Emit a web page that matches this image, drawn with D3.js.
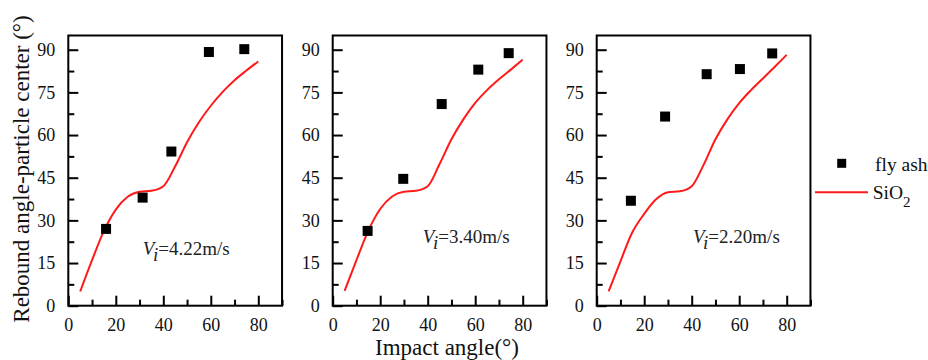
<!DOCTYPE html>
<html><head><meta charset="utf-8">
<script src="https://cdn.jsdelivr.net/npm/d3@7"></script>
<style>
body{margin:0;background:#fff;}
svg{display:block;font-family:"Liberation Serif","Times New Roman",serif;}
svg text{font-family:"Liberation Serif","Times New Roman",serif;}
</style></head>
<body>
<svg id="c" width="928" height="360"></svg>
<script>
// ---- data ----
const xMajorTicks = [0, 20, 40, 60, 80];
const xMinorTicks = [10, 30, 50, 70, 90];
const yMajorTicks = [0, 15, 30, 45, 60, 75, 90];
const yMinorTicks = [7.5, 22.5, 37.5, 52.5, 67.5, 82.5];

const panelLabels = ["4.22m/s", "3.40m/s", "2.20m/s"];

const flyAshX1 = [15.9, 31.3, 43.4, 59.2, 74.1];
const flyAshY1 = [27.0, 38.0, 54.2, 89.2, 90.2];
const flyAshX2 = [14.7, 29.7, 45.9, 61.3, 74.1];
const flyAshY2 = [26.3, 44.6, 70.9, 83.0, 88.8];
const flyAshX3 = [14.4, 28.8, 46.3, 60.3, 73.9];
const flyAshY3 = [36.9, 66.5, 81.4, 83.2, 88.7];

const sio2X  = [5, 10, 15, 20, 25, 30, 35, 40, 45, 50, 55, 60, 65, 70, 75, 80];
const sio2Y1 = [5, 16, 26.3, 33.8, 38.3, 40.1, 40.4, 42.0, 49.0, 57.5, 64.5, 70.3, 75.2, 79.3, 82.7, 85.9];
const sio2Y2 = [5.2, 16, 26.4, 34.0, 38.4, 40.1, 40.4, 42.0, 49.8, 58.5, 65.5, 71.3, 75.8, 79.6, 83.0, 86.5];
const sio2Y3 = [5, 15.6, 25.8, 32.3, 37.4, 39.9, 40.2, 42.0, 49.5, 58.5, 65.5, 71.2, 75.8, 79.9, 84.0, 88.2];

const seriesNames = ["fly ash", "SiO2"];

// ---- layout ----
const panelLefts = [68.3, 332.7, 596.7];
const plotTop = 35.5, plotW = 213.75, plotH = 270.2;
const annot = [{x: 31.4, y: 17.8}, {x: 37.9, y: 22}, {x: 40.5, y: 22}];
const serif = '"Liberation Serif","Times New Roman",serif';

const panels = [
  {fx: flyAshX1, fy: flyAshY1, sy: sio2Y1},
  {fx: flyAshX2, fy: flyAshY2, sy: sio2Y2},
  {fx: flyAshX3, fy: flyAshY3, sy: sio2Y3}
];

const svg = d3.select("#c");
const x = d3.scaleLinear().domain([0, 90]).range([0, plotW]);
const y = d3.scaleLinear().domain([0, 95]).range([plotH, 0]);

panels.forEach((p, i) => {
  const g = svg.append("g").attr("transform", `translate(${panelLefts[i]},${plotTop})`);

  const xMin = g.append("g").attr("transform", `translate(0,${plotH})`)
    .call(d3.axisBottom(x).tickValues(xMinorTicks).tickSize(-6).tickFormat(""));
  const yMin = g.append("g")
    .call(d3.axisLeft(y).tickValues(yMinorTicks).tickSize(-6).tickFormat(""));
  const xMaj = g.append("g").attr("transform", `translate(0,${plotH})`)
    .call(d3.axisBottom(x).tickValues(xMajorTicks).tickSize(-10).tickPadding(13).tickFormat(d3.format("d")));
  const yMaj = g.append("g")
    .call(d3.axisLeft(y).tickValues(yMajorTicks).tickSize(-10).tickPadding(13).tickFormat(d3.format("d")));
  [xMin, yMin, xMaj, yMaj].forEach(a => {
    a.attr("font-family", serif).attr("font-size", 18);
    a.select(".domain").remove();
    a.selectAll("line").attr("stroke", "#000").attr("stroke-width", 2);
    a.selectAll("text").attr("fill", "#111");
  });

  g.append("rect").attr("x", 0).attr("y", 0).attr("width", plotW).attr("height", plotH)
    .attr("fill", "none").attr("stroke", "#000").attr("stroke-width", 2);

  const line = d3.line().x(d => x(d[0])).y(d => y(d[1])).curve(d3.curveMonotoneX);
  g.append("path").datum(sio2X.map((v, k) => [v, p.sy[k]]))
    .attr("d", line).attr("fill", "none").attr("stroke", "#ff1a1a").attr("stroke-width", 2);

  const s = 10;
  g.selectAll("rect.pt").data(p.fx.map((v, k) => [v, p.fy[k]])).enter().append("rect")
    .attr("class", "pt")
    .attr("x", d => x(d[0]) - s / 2).attr("y", d => y(d[1]) - s / 2)
    .attr("width", s).attr("height", s).attr("fill", "#000");

  const t = g.append("text").attr("x", x(annot[i].x)).attr("y", y(annot[i].y))
    .attr("font-size", 19).attr("fill", "#222");
  t.append("tspan").text("V").attr("font-style", "italic");
  t.append("tspan").text("i").attr("font-style", "italic").attr("dy", 6);
  t.append("tspan").text("=" + panelLabels[i]).attr("dy", -6);
});

svg.append("text").attr("transform", "translate(29,169) rotate(-90)")
  .attr("text-anchor", "middle").attr("font-size", 23).attr("fill", "#111")
  .text("Rebound angle-particle center (°)");
svg.append("text").attr("x", 447).attr("y", 355)
  .attr("text-anchor", "middle").attr("font-size", 23).attr("fill", "#111")
  .text("Impact angle(°)");

const lg = svg.append("g");
lg.append("rect").attr("x", 837.2).attr("y", 158.8).attr("width", 9).attr("height", 9).attr("fill", "#000");
lg.append("text").attr("x", 875).attr("y", 170.5).attr("font-size", 19.5).attr("fill", "#111").text(seriesNames[0]);
lg.append("line").attr("x1", 815).attr("x2", 868).attr("y1", 192.3).attr("y2", 192.3)
  .attr("stroke", "#ff1a1a").attr("stroke-width", 2);
const st = lg.append("text").attr("x", 872.7).attr("y", 198.5).attr("font-size", 19.5).attr("fill", "#111");
st.append("tspan").text("SiO");
st.append("tspan").text("2").attr("font-size", 15).attr("dy", 8);
</script>
</body></html>
